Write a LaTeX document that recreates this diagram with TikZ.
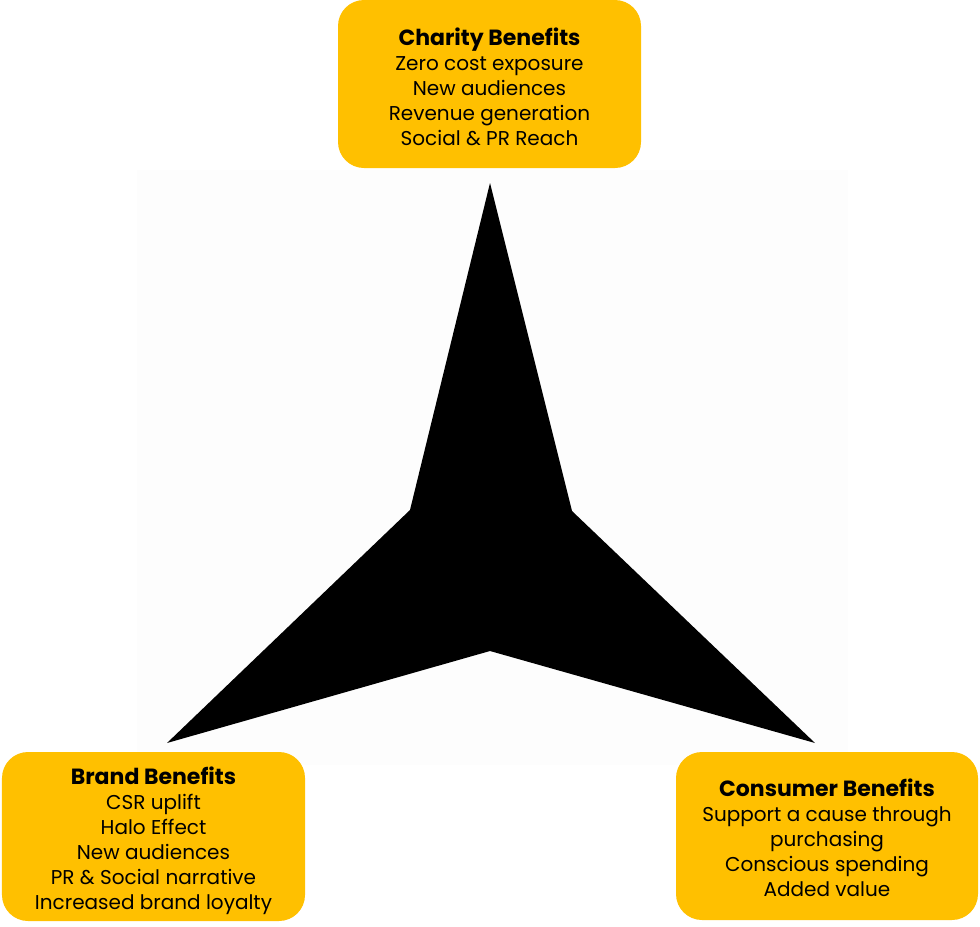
\documentclass[tikz,border=0pt]{standalone}
\usepackage{fontspec}
\setmainfont{Poppins}
\definecolor{gold}{HTML}{FFC000}
\definecolor{faint}{HTML}{FDFDFD}
\newcommand{\bhead}[1]{{\fontsize{22bp}{25bp}\selectfont\bfseries #1}}
\begin{document}
\begin{tikzpicture}[x=1bp,y=-1bp,
  benefit/.style={draw=none,fill=gold,rounded corners=26bp,minimum width=303bp,minimum height=168bp,inner sep=0pt},
  btext/.style={align=center,inner sep=0pt,font=\fontsize{20bp}{25bp}\selectfont}]
\useasboundingbox (0,0) rectangle (980,927);
\fill[faint] (137,170) rectangle (848,765);
% star
\coordinate (T) at (490,183);
\coordinate (IL) at (410,510);
\coordinate (IR) at (572,511);
\coordinate (IB) at (490,651);
\coordinate (BL) at (167,743);
\coordinate (BR) at (815,743);
\fill[black] (T) -- (IR) -- (BR) -- (IB) -- (BL) -- (IL) -- cycle;
\node[benefit] (charity) at (489.5,84) {};
\node[btext] (charitytext) at ([yshift=-2.5bp]charity.center) {\bhead{Charity Benefits}\\Zero cost exposure\\New audiences\\Revenue generation\\Social \& PR Reach};
\node[benefit,minimum height=169bp] (brand) at (153.5,836.5) {};
\node[btext] (brandtext) at ([yshift=-4bp]brand.center) {\bhead{Brand Benefits}\\CSR uplift\\Halo Effect\\New audiences\\PR \& Social narrative\\Increased brand loyalty};
\node[benefit,minimum width=302bp] (consumer) at (827,836) {};
\node[btext] (consumertext) at ([yshift=-2bp]consumer.center) {\bhead{Consumer Benefits}\\Support a cause through\\purchasing\\Conscious spending\\Added value};
\end{tikzpicture}
\end{document}
